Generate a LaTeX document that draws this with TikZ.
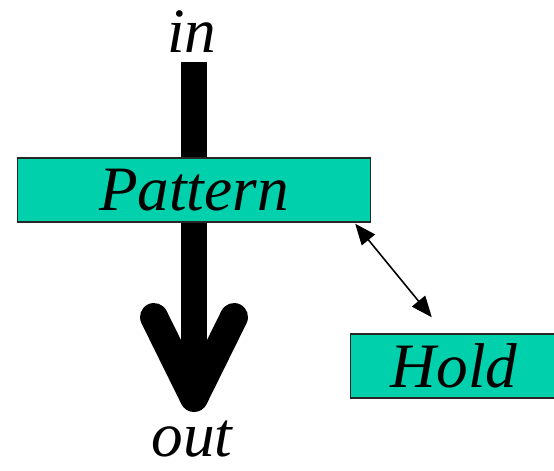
\documentclass[tikz,border=0pt]{standalone}
\usepackage{fontspec}
\setmainfont{Liberation Serif}
\usepackage{tikz}
\usetikzlibrary{arrows.meta,calc}
\definecolor{boxteal}{RGB}{0,209,172}
\tikzset{
  word/.style   ={font=\fontsize{36}{40}\selectfont\itshape, inner sep=0pt},
  blockbox/.style={draw=black!85, fill=boxteal, line width=0.8pt,
                  font=\fontsize{36}{40}\selectfont\itshape, inner sep=0pt},
  shaft/.style  ={line width=0.52cm, line cap=butt},
  barb/.style   ={line width=0.56cm, line cap=round, line join=round},
  link/.style   ={{Triangle[length=4.2mm,width=3.4mm]}-{Triangle[length=4.2mm,width=3.4mm]},
                  line width=0.9pt},
}
\begin{document}
\begin{tikzpicture}[x=0.02cm,y=-0.02cm]
  \useasboundingbox (0,0) rectangle (554,470);
  \node[word, anchor=base] (in)  at (192,52)  {in};
  \node[word, anchor=base] (out) at (192,456) {out};
  \coordinate (top) at (194,62);
  \coordinate (tip) at (194,398);
  \draw[shaft] (top) -- (tip);
  \draw[barb] (154,317) -- (tip) -- (234,317);
  \node[blockbox, minimum width=7.06cm, minimum height=1.28cm] (pattern) at (194,190) {Pattern};
  \node[blockbox, minimum width=4.14cm, minimum height=1.28cm] (hold) at (454,366) {Hold};
  \draw[link] ($(pattern.south east)+(-16,1)$) -- ($(hold.north west)+(82,-16)$);
\end{tikzpicture}
\end{document}
